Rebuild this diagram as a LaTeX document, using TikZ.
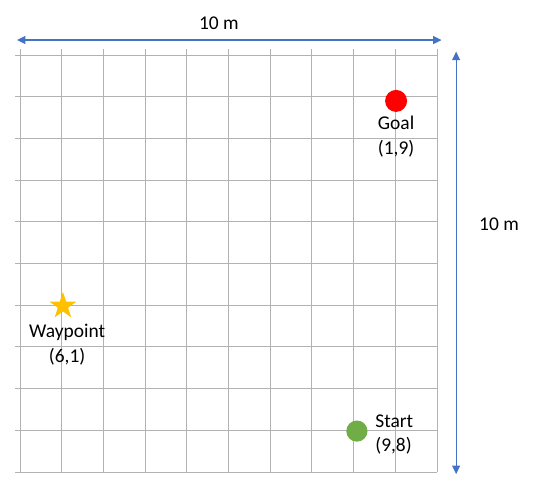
\documentclass[tikz,border=0pt]{standalone}
\usepackage{fontspec}
\setmainfont{Carlito}
\usepackage{xcolor}
\usetikzlibrary{arrows.meta,positioning,shapes.geometric}

\definecolor{dimblue}{HTML}{4472C4}
\definecolor{goalred}{HTML}{FF0000}
\definecolor{startgreen}{HTML}{70AD47}
\definecolor{wpgold}{HTML}{FFC000}

\begin{document}
\begin{tikzpicture}[
x=1.1cm,
y=1.1cm,
every node/.style={font=\fontsize{14.6}{18.5}\selectfont},
gridline/.style={draw=black!30,line width=0.6pt},
dimarr/.style={{Triangle[length=2.2mm,width=2.1mm]}-{Triangle[length=2.2mm,width=2.1mm]},draw=dimblue,line width=0.8pt},
dot/.style={circle,inner sep=0pt,minimum size=0.58cm},
lbl/.style={align=center,inner sep=1pt}
]
\useasboundingbox (-0.48,-0.504) rectangle (12.40,11.32);

% grid
\foreach \i in {0,...,10}{
  \draw[gridline] (-0.12,\i) -- (10,\i);
  \draw[gridline] (\i,0) -- (\i,10.15);
}

% dimensions
\coordinate (wl) at (-0.07,10.36);
\coordinate (wr) at (10.11,10.36);
\coordinate (ht) at (10.46,10.08);
\coordinate (hb) at (10.46,-0.05);
\draw[dimarr] (wl) -- (wr);
\draw[dimarr] (ht) -- (hb);
\node (widthlbl) at (4.77,10.77) {10 m};
\node (heightlbl) at (11.49,5.95) {10 m};

% points
\node[dot,fill=goalred] (goal) at (9.02,8.9) {};
\node[lbl,below=2pt of goal] (goallbl) {Goal\\(1,9)};
\node[star,star points=5,star point ratio=2.6,fill=wpgold,inner sep=0pt,minimum size=0.74cm] (waypoint) at (1.03,3.98) {};
\node[lbl] (waypointlbl) at (1.13,3.06) {Waypoint\\(6,1)};
\node[dot,fill=startgreen,minimum size=0.56cm] (start) at (8.08,0.98) {};
\node[lbl,align=left,right=4.5pt of start,yshift=-2.5pt] (startlbl) {Start\\(9,8)};
\end{tikzpicture}
\end{document}
